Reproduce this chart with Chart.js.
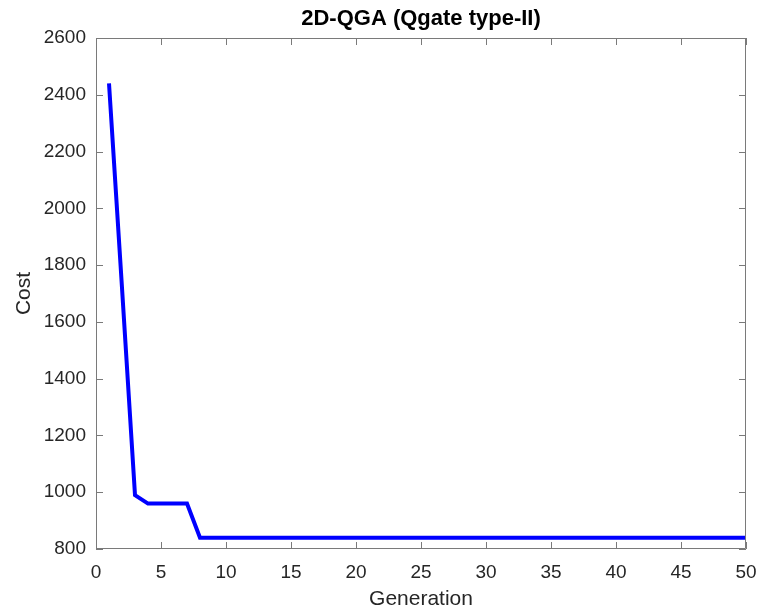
<!DOCTYPE html>
<html>
<head>
<meta charset="utf-8">
<script src="https://cdn.jsdelivr.net/npm/chart.js@4"></script>
<style>
html,body{margin:0;padding:0;background:#fff;}
canvas{display:block;}
</style>
</head>
<body>
<canvas id="c" width="760" height="612"></canvas>
<script>
const generations = [1,2,3,4,5,6,7,8,9,10,11,12,13,14,15,16,17,18,19,20,21,22,23,24,25,26,27,28,29,30,31,32,33,34,35,36,37,38,39,40,41,42,43,44,45,46,47,48,49,50];
const costs = [2440,1720,990,960,960,960,960,840,840,840,840,840,840,840,840,840,840,840,840,840,840,840,840,840,840,840,840,840,840,840,840,840,840,840,840,840,840,840,840,840,840,840,840,840,840,840,840,840,840,840];
const xTicks = [0,5,10,15,20,25,30,35,40,45,50];
const yTicks = [800,1000,1200,1400,1600,1800,2000,2200,2400,2600];
const titleText = '2D-QGA (Qgate type-II)';
const xLabel = 'Generation';
const yLabel = 'Cost';

const FONT = "'Liberation Sans', Arial, Helvetica, sans-serif";
const TXT = '#262626';
const AX = '#7a7a7a';

const boxPlugin = {
  id: 'boxTicks',
  afterDatasetsDraw(chart) {
    const {ctx, chartArea: a, scales} = chart;
    const xs = scales.x, ys = scales.y;
    const L = 7;
    ctx.save();
    ctx.strokeStyle = AX;
    ctx.lineWidth = 1;
    ctx.beginPath();
    ctx.rect(a.left + 0.5, a.top + 0.5, a.right - a.left - 1, a.bottom - a.top - 1);
    xTicks.forEach(v => {
      const px = Math.round(xs.getPixelForValue(v)) + 0.5;
      ctx.moveTo(px, a.bottom); ctx.lineTo(px, a.bottom - L);
      ctx.moveTo(px, a.top); ctx.lineTo(px, a.top + L);
    });
    yTicks.forEach(v => {
      const py = Math.round(ys.getPixelForValue(v)) + 0.5;
      ctx.moveTo(a.left, py); ctx.lineTo(a.left + L, py);
      ctx.moveTo(a.right, py); ctx.lineTo(a.right - L, py);
    });
    ctx.stroke();
    ctx.restore();
  }
};

new Chart(document.getElementById('c'), {
  type: 'line',
  data: {
    labels: generations,
    datasets: [{
      data: generations.map((g, i) => ({x: g, y: costs[i]})),
      borderColor: '#0000ff',
      borderWidth: 4,
      pointRadius: 0,
      tension: 0,
      fill: false
    }]
  },
  options: {
    responsive: false,
    animation: false,
    devicePixelRatio: 1,
    layout: {padding: {left: 0, right: 14, top: 0, bottom: 0}},
    plugins: {
      legend: {display: false},
      tooltip: {enabled: false},
      title: {
        display: true,
        fullSize: false,
        text: titleText,
        color: '#000',
        font: {family: FONT, size: 22, weight: 'bold', lineHeight: 1.2},
        padding: {top: 6, bottom: 5.6}
      }
    },
    scales: {
      x: {
        type: 'linear',
        min: 0, max: 50,
        afterBuildTicks(s) { s.ticks = xTicks.map(v => ({value: v})); },
        afterFit(s) { s.height = 63; s.paddingLeft = 0; s.paddingRight = 0; },
        grid: {display: false, drawTicks: false},
        border: {display: false},
        ticks: {color: TXT, padding: 12, maxRotation: 0, font: {family: FONT, size: 19}, callback: v => String(v)},
        title: {display: true, text: xLabel, color: TXT, font: {family: FONT, size: 21, lineHeight: 1.2}, padding: {top: 0, bottom: 0}}
      },
      y: {
        type: 'linear',
        min: 800, max: 2600,
        afterBuildTicks(s) { s.ticks = yTicks.map(v => ({value: v})); },
        afterFit(s) { s.width = 96; s.paddingTop = 0; s.paddingBottom = 0; },
        grid: {display: false, drawTicks: false},
        border: {display: false},
        ticks: {color: TXT, padding: 10, font: {family: FONT, size: 19}, callback: v => String(v)},
        title: {display: true, text: yLabel, color: TXT, font: {family: FONT, size: 21, lineHeight: 1.2}, padding: {top: 11.5, bottom: 0}}
      }
    }
  },
  plugins: [boxPlugin]
});
</script>
</body>
</html>
